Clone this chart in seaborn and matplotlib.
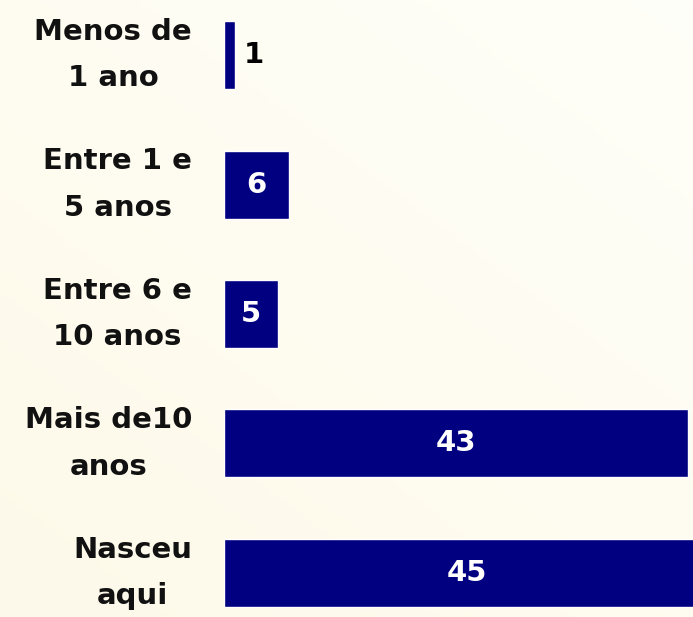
import numpy as np
import pandas as pd
import matplotlib
matplotlib.use('Agg')
import matplotlib.pyplot as plt
import seaborn as sns

categorias = ['Menos de\n1 ano', 'Entre 1 e\n5 anos', 'Entre 6 e\n10 anos',
              'Mais de10\nanos', 'Nasceu\naqui']
valores = [1, 6, 5, 43, 45]

df = pd.DataFrame({'cat': categorias, 'val': valores})

sns.set_style('white')
plt.rcParams['font.family'] = ['DejaVu Sans']

fig = plt.figure(figsize=(6.93, 6.17), dpi=100)

# fundo creme em degradê
bg = fig.add_axes([0, 0, 1, 1], zorder=0)
xx, yy = np.meshgrid(np.linspace(0, 1, 200), np.linspace(0, 1, 200))
t = np.clip(0.5 * (1 - xx) + 0.6 * yy, 0, 1)
c0 = np.array([1.0, 1.0, 0.975])
c1 = np.array([0.995, 0.98, 0.92])
img = c0[None, None, :] * (1 - t[..., None]) + c1[None, None, :] * t[..., None]
bg.imshow(img, aspect='auto', extent=[0, 1, 1, 0], origin='upper')
bg.axis('off')

ax = fig.add_axes([224 / 693, 0, 1 - 224 / 693, 1], zorder=1)
ax.patch.set_alpha(0)
sns.barplot(data=df, y='cat', x='val', orient='h', color='#000080',
            saturation=1, width=0.525, ax=ax)

ax.set_xlim(0, 43.5)
ax.set_ylim(4.34, -0.425)
ax.set_xlabel('')
ax.set_ylabel('')
ax.set_xticks([])
sns.despine(ax=ax, left=True, bottom=True)
ax.tick_params(axis='y', length=0, pad=23)
for lab in ax.get_yticklabels():
    lab.set_fontsize(21)
    lab.set_fontweight('bold')
    lab.set_color('#111111')
    lab.set_multialignment('center')
    lab.set_linespacing(1.85)
    lab.set_va('center')

for p, v in zip(ax.patches, valores):
    y = p.get_y() + p.get_height() / 2
    w = p.get_width()
    if v < 3:
        ax.text(w + 0.8, y, str(v), ha='left', va='center', fontsize=21,
                fontweight='bold', color='black')
    else:
        ax.text(w / 2, y, str(v), ha='center', va='center', fontsize=21,
                fontweight='bold', color='white')

fig.savefig('out.png', dpi=100)
